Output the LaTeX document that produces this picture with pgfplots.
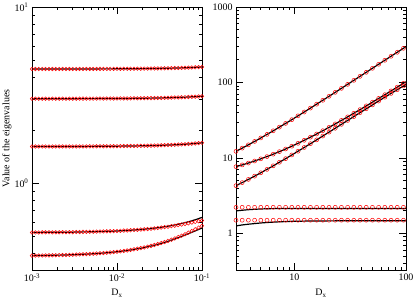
\documentclass[border=0pt]{standalone}
\usepackage{pgfplots}
\pgfplotsset{compat=1.18}
\usepackage{pgfplotstable}
\usepackage{fontspec}
\setmainfont{Liberation Serif}

\pgfplotstableread{
x l1 l2 l3 l4 l5 r4 r5
0.001000 4.441 3.011 1.611 0.523 0.3863 0.523 0.3863
0.001096 4.441 3.011 1.611 0.523 0.3865 0.523 0.3865
0.001202 4.441 3.011 1.611 0.523 0.3868 0.523 0.3868
0.001318 4.442 3.011 1.611 0.524 0.3870 0.524 0.3870
0.001445 4.442 3.011 1.611 0.524 0.3873 0.524 0.3873
0.001585 4.442 3.012 1.611 0.524 0.3876 0.524 0.3876
0.001738 4.442 3.012 1.611 0.524 0.3880 0.524 0.3880
0.001905 4.442 3.012 1.612 0.524 0.3884 0.524 0.3884
0.002089 4.443 3.012 1.612 0.524 0.3888 0.524 0.3888
0.002291 4.443 3.012 1.612 0.525 0.3892 0.525 0.3892
0.002512 4.443 3.013 1.612 0.525 0.3897 0.525 0.3897
0.002754 4.443 3.013 1.612 0.525 0.3903 0.525 0.3903
0.003020 4.444 3.013 1.612 0.525 0.3909 0.525 0.3909
0.003311 4.444 3.013 1.613 0.526 0.3916 0.526 0.3916
0.003631 4.444 3.014 1.613 0.526 0.3923 0.526 0.3923
0.003981 4.445 3.014 1.613 0.527 0.3931 0.527 0.3931
0.004365 4.445 3.014 1.613 0.527 0.3939 0.527 0.3939
0.004786 4.446 3.015 1.614 0.528 0.3949 0.528 0.3949
0.005248 4.446 3.015 1.614 0.528 0.3959 0.528 0.3959
0.005754 4.447 3.016 1.615 0.529 0.3970 0.529 0.3970
0.006310 4.448 3.016 1.615 0.529 0.3983 0.529 0.3983
0.006918 4.448 3.017 1.616 0.530 0.3996 0.530 0.3996
0.007586 4.449 3.018 1.616 0.531 0.4011 0.531 0.4011
0.008318 4.450 3.018 1.617 0.532 0.4027 0.532 0.4027
0.009120 4.451 3.019 1.617 0.532 0.4045 0.532 0.4045
0.01000 4.452 3.020 1.618 0.5335 0.4064 0.5335 0.4064
0.01096 4.453 3.021 1.619 0.5346 0.4085 0.5346 0.4085
0.01202 4.454 3.022 1.620 0.5358 0.4108 0.5358 0.4108
0.01318 4.456 3.023 1.621 0.5372 0.4133 0.5371 0.4133
0.01445 4.457 3.024 1.622 0.5386 0.4160 0.5385 0.4160
0.01585 4.459 3.026 1.623 0.5402 0.4190 0.5397 0.4193
0.01738 4.461 3.027 1.624 0.5420 0.4222 0.5413 0.4226
0.01905 4.463 3.029 1.625 0.5439 0.4256 0.5431 0.4261
0.02089 4.465 3.031 1.627 0.5460 0.4294 0.5450 0.4300
0.02291 4.467 3.033 1.628 0.5483 0.4335 0.5471 0.4342
0.02512 4.470 3.035 1.630 0.5509 0.4380 0.5495 0.4388
0.02754 4.473 3.038 1.632 0.5537 0.4428 0.5520 0.4438
0.03020 4.476 3.040 1.634 0.5567 0.4480 0.5547 0.4492
0.03311 4.480 3.043 1.636 0.5601 0.4536 0.5576 0.4551
0.03631 4.484 3.046 1.639 0.5638 0.4596 0.5608 0.4614
0.03981 4.488 3.050 1.642 0.5678 0.4661 0.5642 0.4683
0.04365 4.492 3.054 1.645 0.5722 0.4730 0.5678 0.4757
0.04786 4.497 3.058 1.648 0.5770 0.4803 0.5717 0.4836
0.05248 4.503 3.062 1.652 0.5824 0.4882 0.5760 0.4922
0.05754 4.509 3.068 1.656 0.5882 0.4965 0.5804 0.5014
0.06310 4.516 3.073 1.660 0.5946 0.5052 0.5851 0.5112
0.06918 4.523 3.079 1.665 0.6016 0.5144 0.5901 0.5218
0.07586 4.531 3.086 1.671 0.6092 0.5240 0.5952 0.5330
0.08318 4.540 3.093 1.677 0.6177 0.5338 0.6006 0.5449
0.09120 4.549 3.101 1.683 0.6269 0.5439 0.6060 0.5575
0.1000 4.560 3.110 1.690 0.6370 0.5540 0.6115 0.5706
}\lefttab

\pgfplotstableread{
x a b c d e
3.000 12.20 7.64 4.28 2.21 1.49
3.409 13.46 8.06 4.70 2.21 1.49
3.875 14.89 8.54 5.18 2.21 1.49
4.403 16.51 9.08 5.72 2.21 1.49
5.004 18.36 9.70 6.34 2.21 1.49
5.687 20.46 10.40 7.04 2.21 1.49
6.463 22.84 11.19 7.84 2.21 1.49
7.345 25.54 12.09 8.74 2.21 1.49
8.348 28.62 13.11 9.76 2.21 1.49
9.487 32.10 14.28 10.92 2.21 1.49
10.781 36.06 15.59 12.24 2.21 1.49
12.253 40.55 17.09 13.73 2.21 1.49
13.925 45.65 18.79 15.41 2.21 1.49
15.825 51.44 20.72 17.32 2.21 1.49
17.985 58.00 22.90 19.48 2.21 1.49
20.439 65.45 25.37 21.93 2.21 1.49
23.228 73.89 28.18 24.69 2.21 1.49
26.398 83.46 31.36 27.81 2.21 1.49
30.000 94.29 34.95 31.32 2.21 1.49
34.094 106.57 39.02 35.28 2.21 1.49
38.746 120.47 43.63 39.74 2.21 1.49
44.034 136.19 48.83 44.75 2.21 1.49
50.043 153.97 54.70 50.36 2.21 1.49
56.872 174.05 61.33 56.65 2.21 1.49
64.633 196.73 68.80 63.67 2.21 1.49
73.453 222.29 77.20 71.49 2.21 1.49
83.478 251.11 86.65 80.17 2.21 1.49
94.868 283.51 97.25 89.77 2.21 1.49
}\rightcirc

\pgfplotstableread{
x a b c
3.000 12.20 7.64 4.28
3.409 13.46 8.06 4.70
3.875 14.89 8.54 5.18
4.403 16.51 9.08 5.72
5.004 18.36 9.70 6.34
5.687 20.46 10.40 7.04
6.463 22.84 11.19 7.84
7.345 25.54 12.09 8.74
8.348 28.62 13.11 9.76
9.487 32.10 14.28 10.92
10.781 36.06 15.59 12.24
12.253 40.55 17.09 13.73
13.925 45.65 18.79 15.41
15.825 51.44 20.72 17.32
17.985 58.00 22.90 19.48
20.439 65.45 25.37 21.93
23.228 73.89 28.18 24.69
26.398 83.46 31.36 27.81
30.000 94.29 34.95 31.32
34.094 106.57 39.02 35.28
38.746 120.47 43.63 39.74
44.034 136.19 48.83 44.75
50.043 153.97 54.70 50.36
56.872 174.05 61.33 56.65
64.633 196.73 68.80 63.67
73.453 222.29 77.20 71.49
83.478 251.11 86.65 80.17
94.868 283.51 97.25 89.77
100.000 298.00 101.98 94.00
}\rightline

\begin{document}
\begin{tikzpicture}
\begin{loglogaxis}[at={(0,0)}, anchor=south west,
  scale only axis, width=170bp, height=263bp,
  tick align=inside, major tick length=7bp, minor tick length=3.5bp,
  axis line style={line width=0.8bp},
  tick style={black, line width=0.6bp},
  tick label style={font=\fontsize{10}{12}\selectfont},
  label style={font=\fontsize{10}{12}\selectfont},
  xlabel={D\textsubscript{x}},
  xlabel style={at={(axis description cs:0.5,0)}, anchor=center, yshift=-23bp},
  xmin=1e-3, xmax=0.1, ymin=0.32, ymax=10,
  xtick={0.001,0.01,0.1},
  xticklabels={10\textsuperscript{-3},10\textsuperscript{-2},10\textsuperscript{-1}},
  minor xtick={0.002,0.003,0.004,0.005,0.006,0.007,0.008,0.009,0.02,0.03,0.04,0.05,0.06,0.07,0.08,0.09},
  ytick={1,10},
  yticklabels={10\textsuperscript{0},10\textsuperscript{1}},
  minor ytick={0.4,0.5,0.6,0.7,0.8,0.9,2,3,4,5,6,7,8,9},
  ylabel={Value of the eigenvalues},
  ylabel style={at={(axis description cs:-0.147,0.5)}, anchor=center},
]
\addplot[black, line width=1.2bp, no markers] table[x=x,y=l1]{\lefttab};
\addplot[black, line width=1.2bp, no markers] table[x=x,y=l2]{\lefttab};
\addplot[black, line width=1.2bp, no markers] table[x=x,y=l3]{\lefttab};
\addplot[black, line width=1.2bp, no markers] table[x=x,y=l4]{\lefttab};
\addplot[black, line width=1.2bp, no markers] table[x=x,y=l5]{\lefttab};
\addplot[red, only marks, mark=o, mark size=1.8bp, mark options={line width=0.5bp}] table[x=x,y=l1]{\lefttab};
\addplot[red, only marks, mark=o, mark size=1.8bp, mark options={line width=0.5bp}] table[x=x,y=l2]{\lefttab};
\addplot[red, only marks, mark=o, mark size=1.8bp, mark options={line width=0.5bp}] table[x=x,y=l3]{\lefttab};
\addplot[red, only marks, mark=o, mark size=1.8bp, mark options={line width=0.5bp}] table[x=x,y=r4]{\lefttab};
\addplot[red, only marks, mark=o, mark size=1.8bp, mark options={line width=0.5bp}] table[x=x,y=r5]{\lefttab};
\end{loglogaxis}

\begin{loglogaxis}[at={(204bp,0)}, anchor=south west,
  scale only axis, width=170bp, height=263bp,
  tick align=inside, major tick length=7bp, minor tick length=3.5bp,
  axis line style={line width=0.8bp},
  tick style={black, line width=0.6bp},
  tick label style={font=\fontsize{10}{12}\selectfont},
  label style={font=\fontsize{10}{12}\selectfont},
  xlabel={D\textsubscript{x}},
  xlabel style={at={(axis description cs:0.5,0)}, anchor=center, yshift=-23bp},
  xmin=3, xmax=100, ymin=0.326, ymax=1000,
  xtick={10,100}, xticklabels={10,100},
  minor xtick={4,5,6,7,8,9,20,30,40,50,60,70,80,90},
  ytick={1,10,100,1000}, yticklabels={1,10,100,1000},
  minor ytick={0.4,0.5,0.6,0.7,0.8,0.9,2,3,4,5,6,7,8,9,20,30,40,50,60,70,80,90,200,300,400,500,600,700,800,900},
]
\addplot[red, only marks, mark=o, mark size=2bp, mark options={line width=0.5bp}] table[x=x,y=a]{\rightcirc};
\addplot[red, only marks, mark=o, mark size=2bp, mark options={line width=0.5bp}] table[x=x,y=b]{\rightcirc};
\addplot[red, only marks, mark=o, mark size=2bp, mark options={line width=0.5bp}] table[x=x,y=c]{\rightcirc};
\addplot[red, only marks, mark=o, mark size=2bp, mark options={line width=0.5bp}] table[x=x,y=d]{\rightcirc};
\addplot[red, only marks, mark=o, mark size=2bp, mark options={line width=0.5bp}] table[x=x,y=e]{\rightcirc};
\addplot[black, line width=1.2bp, no markers] table[x=x,y=a]{\rightline};
\addplot[black, line width=1.2bp, no markers] table[x=x,y=b]{\rightline};
\addplot[black, line width=1.2bp, no markers] table[x=x,y=c]{\rightline};
\addplot[black, line width=1.2bp, no markers] coordinates {(3,1.98)(3.409,2.02)(3.875,2.055)(4.403,2.08)(5.004,2.10)(5.687,2.115)(6.463,2.125)(7.345,2.13)(8.348,2.13)(10.781,2.13)(20,2.13)(100,2.13)};
\addplot[black, line width=1.2bp, no markers] coordinates {(3,1.25)(3.409,1.29)(3.875,1.32)(4.403,1.345)(5.004,1.37)(5.687,1.39)(6.463,1.405)(7.345,1.42)(8.348,1.43)(9.487,1.44)(10.781,1.445)(13.925,1.455)(20.439,1.46)(30,1.465)(100,1.47)};
\end{loglogaxis}
\pgfresetboundingbox
\path (-32bp,-32bp) rectangle (383bp,270bp);
\end{tikzpicture}
\end{document}
